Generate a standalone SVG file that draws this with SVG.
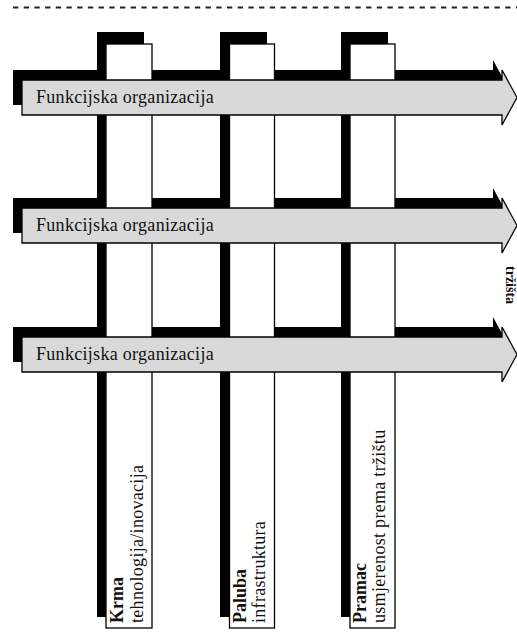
<svg xmlns="http://www.w3.org/2000/svg" width="517" height="632" viewBox="0 0 517 632">
<style>
.sh{fill:#000}
.col{fill:#fff;stroke:#000;stroke-width:1.3}
.arr{fill:#d9d9d9;stroke:#000;stroke-width:1.3}
.t{font-family:"Liberation Serif","Times New Roman",serif;font-size:18px;fill:#111;letter-spacing:0.3px}
.b{font-weight:bold;letter-spacing:0}
</style>
<defs>
<path id="ar" d="M22,0 H502 V-10 L517,17.5 L502,45 V35 H22 Z"/>
</defs>
<line x1="13" y1="7.5" x2="517" y2="7.5" stroke="#222" stroke-width="2" stroke-dasharray="5.3 5.4"/>
<text transform="translate(506,266) rotate(90)" style="font-family:'Liberation Serif','Times New Roman',serif;font-size:14px;font-weight:bold;fill:#111">tržišta</text>
<g id="shadows">
<use href="#ar" class="sh" transform="translate(-9,70)"/>
<use href="#ar" class="sh" transform="translate(-9,198)"/>
<use href="#ar" class="sh" transform="translate(-9,327)"/>
<rect class="sh" x="97" y="32" width="47" height="585"/>
<rect class="sh" x="220" y="32" width="47" height="585"/>
<rect class="sh" x="341" y="32" width="47" height="585"/>
</g>
<g id="col1">
<rect class="col" x="106" y="44" width="46" height="584"/>
<text class="t" transform="translate(123,623) rotate(-90)"><tspan class="b">Krma</tspan></text>
<text class="t" transform="translate(143,623) rotate(-90)">tehnologija/inovacija</text>
</g>
<g id="col2">
<rect class="col" x="229.5" y="44" width="45" height="584"/>
<text class="t" transform="translate(246,623) rotate(-90)"><tspan class="b">Paluba</tspan></text>
<text class="t" transform="translate(265,623) rotate(-90)">infrastruktura</text>
</g>
<g id="col3">
<rect class="col" x="350" y="44" width="45" height="584"/>
<text class="t" transform="translate(366,623) rotate(-90)"><tspan class="b">Pramac</tspan></text>
<text class="t" transform="translate(385,623) rotate(-90)">usmjerenost prema tržištu</text>
</g>
<g id="arrow1">
<use href="#ar" class="arr" transform="translate(0,80)"/>
<text class="t" x="36" y="103">Funkcijska organizacija</text>
</g>
<g id="arrow2">
<use href="#ar" class="arr" transform="translate(0,208)"/>
<text class="t" x="36" y="231">Funkcijska organizacija</text>
</g>
<g id="arrow3">
<use href="#ar" class="arr" transform="translate(0,337)"/>
<text class="t" x="36" y="360">Funkcijska organizacija</text>
</g>
</svg>
